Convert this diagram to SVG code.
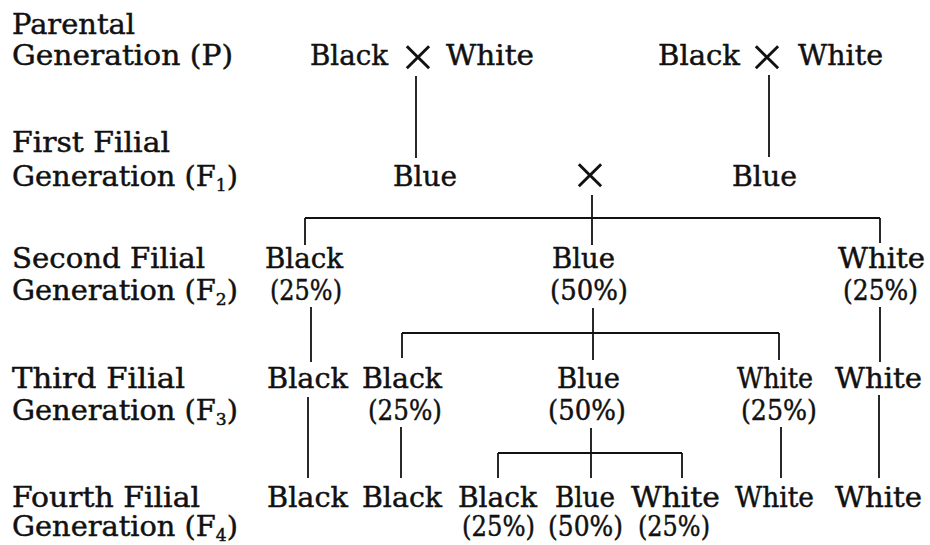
<svg xmlns="http://www.w3.org/2000/svg" width="930" height="545" viewBox="0 0 930 545">
  <style>
    .t { font-family: "DejaVu Serif", "Liberation Serif", serif; font-size: 27px; fill: #111; stroke: #111; stroke-width: 0.45px; }
    .sub { font-size: 16px; }
    .x { font-family: "Liberation Serif", "DejaVu Serif", serif; font-size: 60px; fill: #111; text-anchor: middle; }
    .ln { stroke: #111; stroke-width: 1.8; fill: none; }
  </style>
  <rect width="930" height="545" fill="#ffffff"/>

  <!-- generation labels down the left side -->
  <g id="labels">
    <text class="t" x="12" y="34" textLength="123" lengthAdjust="spacingAndGlyphs">Parental</text>
    <text class="t" x="12" y="65" textLength="221" lengthAdjust="spacingAndGlyphs">Generation (P)</text>
    <text class="t" x="12" y="152" textLength="158" lengthAdjust="spacingAndGlyphs">First Filial</text>
    <text class="t" x="12" y="186" textLength="226" lengthAdjust="spacingAndGlyphs">Generation (F<tspan class="sub" dy="5">1</tspan><tspan dy="-5">)</tspan></text>
    <text class="t" x="12" y="268" textLength="193" lengthAdjust="spacingAndGlyphs">Second Filial</text>
    <text class="t" x="12" y="300" textLength="226" lengthAdjust="spacingAndGlyphs">Generation (F<tspan class="sub" dy="5">2</tspan><tspan dy="-5">)</tspan></text>
    <text class="t" x="12" y="388" textLength="173" lengthAdjust="spacingAndGlyphs">Third Filial</text>
    <text class="t" x="12" y="420" textLength="226" lengthAdjust="spacingAndGlyphs">Generation (F<tspan class="sub" dy="5">3</tspan><tspan dy="-5">)</tspan></text>
    <text class="t" x="12" y="507" textLength="188" lengthAdjust="spacingAndGlyphs">Fourth Filial</text>
    <text class="t" x="12" y="536" textLength="226" lengthAdjust="spacingAndGlyphs">Generation (F<tspan class="sub" dy="5">4</tspan><tspan dy="-5">)</tspan></text>
  </g>

  <!-- parental crosses -->
  <g id="p-cross-left">
    <text class="t" x="310" y="65" textLength="78" lengthAdjust="spacingAndGlyphs">Black</text>
    <text class="x" x="418" y="77">×</text>
    <text class="t" x="446" y="65" textLength="88" lengthAdjust="spacingAndGlyphs">White</text>
  </g>
  <g id="p-cross-right">
    <text class="t" x="658" y="65" textLength="82" lengthAdjust="spacingAndGlyphs">Black</text>
    <text class="x" x="767" y="77">×</text>
    <text class="t" x="798" y="65" textLength="85" lengthAdjust="spacingAndGlyphs">White</text>
  </g>

  <!-- first filial generation -->
  <g id="f1-left">
    <text class="t" x="393" y="186" textLength="64" lengthAdjust="spacingAndGlyphs">Blue</text>
  </g>
  <g id="f1-cross">
    <text class="x" x="590" y="195">×</text>
  </g>
  <g id="f1-right">
    <text class="t" x="732" y="186" textLength="65" lengthAdjust="spacingAndGlyphs">Blue</text>
  </g>

  <!-- second filial generation -->
  <g id="f2-black">
    <text class="t" x="265" y="268" textLength="78" lengthAdjust="spacingAndGlyphs">Black</text>
    <text class="t" x="270" y="300" textLength="72" lengthAdjust="spacingAndGlyphs">(25%)</text>
  </g>
  <g id="f2-blue">
    <text class="t" x="552" y="268" textLength="63" lengthAdjust="spacingAndGlyphs">Blue</text>
    <text class="t" x="550" y="300" textLength="78" lengthAdjust="spacingAndGlyphs">(50%)</text>
  </g>
  <g id="f2-white">
    <text class="t" x="838" y="268" textLength="87" lengthAdjust="spacingAndGlyphs">White</text>
    <text class="t" x="843" y="300" textLength="75" lengthAdjust="spacingAndGlyphs">(25%)</text>
  </g>

  <!-- third filial generation -->
  <g id="f3-black-pure">
    <text class="t" x="267" y="388" textLength="81" lengthAdjust="spacingAndGlyphs">Black</text>
  </g>
  <g id="f3-black">
    <text class="t" x="362" y="388" textLength="80" lengthAdjust="spacingAndGlyphs">Black</text>
    <text class="t" x="368" y="420" textLength="74" lengthAdjust="spacingAndGlyphs">(25%)</text>
  </g>
  <g id="f3-blue">
    <text class="t" x="557" y="388" textLength="63" lengthAdjust="spacingAndGlyphs">Blue</text>
    <text class="t" x="548" y="420" textLength="78" lengthAdjust="spacingAndGlyphs">(50%)</text>
  </g>
  <g id="f3-white">
    <text class="t" x="737" y="388" textLength="76" lengthAdjust="spacingAndGlyphs">White</text>
    <text class="t" x="741" y="420" textLength="76" lengthAdjust="spacingAndGlyphs">(25%)</text>
  </g>
  <g id="f3-white-pure">
    <text class="t" x="835" y="388" textLength="87" lengthAdjust="spacingAndGlyphs">White</text>
  </g>

  <!-- fourth filial generation -->
  <g id="f4-black-a">
    <text class="t" x="267" y="507" textLength="81" lengthAdjust="spacingAndGlyphs">Black</text>
  </g>
  <g id="f4-black-b">
    <text class="t" x="362" y="507" textLength="80" lengthAdjust="spacingAndGlyphs">Black</text>
  </g>
  <g id="f4-black-c">
    <text class="t" x="458" y="507" textLength="79" lengthAdjust="spacingAndGlyphs">Black</text>
    <text class="t" x="462" y="536" textLength="73" lengthAdjust="spacingAndGlyphs">(25%)</text>
  </g>
  <g id="f4-blue">
    <text class="t" x="555" y="507" textLength="60" lengthAdjust="spacingAndGlyphs">Blue</text>
    <text class="t" x="548" y="536" textLength="75" lengthAdjust="spacingAndGlyphs">(50%)</text>
  </g>
  <g id="f4-white-c">
    <text class="t" x="631" y="507" textLength="89" lengthAdjust="spacingAndGlyphs">White</text>
    <text class="t" x="638" y="536" textLength="72" lengthAdjust="spacingAndGlyphs">(25%)</text>
  </g>
  <g id="f4-white-b">
    <text class="t" x="735" y="507" textLength="79" lengthAdjust="spacingAndGlyphs">White</text>
  </g>
  <g id="f4-white-a">
    <text class="t" x="835" y="507" textLength="87" lengthAdjust="spacingAndGlyphs">White</text>
  </g>

  <!-- descent lines -->
  <g id="connectors" class="ln">
    <!-- P to F1 -->
    <line x1="416" y1="76" x2="416" y2="158"/>
    <line x1="769" y1="75" x2="769" y2="157"/>
    <!-- F1 cross to F2 -->
    <line x1="592" y1="195" x2="592" y2="245"/>
    <line x1="305" y1="218" x2="880" y2="218"/>
    <line x1="305" y1="218" x2="305" y2="245"/>
    <line x1="880" y1="218" x2="880" y2="243"/>
    <!-- F2 to F3 -->
    <line x1="311" y1="307" x2="311" y2="362"/>
    <line x1="593" y1="308" x2="593" y2="360"/>
    <line x1="402" y1="333" x2="779" y2="333"/>
    <line x1="402" y1="333" x2="402" y2="358"/>
    <line x1="779" y1="333" x2="779" y2="360"/>
    <line x1="880" y1="307" x2="880" y2="362"/>
    <!-- F3 to F4 -->
    <line x1="308" y1="397" x2="308" y2="478"/>
    <line x1="401" y1="427" x2="401" y2="478"/>
    <line x1="591" y1="428" x2="591" y2="478"/>
    <line x1="498" y1="453" x2="682" y2="453"/>
    <line x1="498" y1="453" x2="498" y2="478"/>
    <line x1="682" y1="453" x2="682" y2="478"/>
    <line x1="781" y1="427" x2="781" y2="478"/>
    <line x1="879" y1="395" x2="879" y2="478"/>
  </g>
</svg>
